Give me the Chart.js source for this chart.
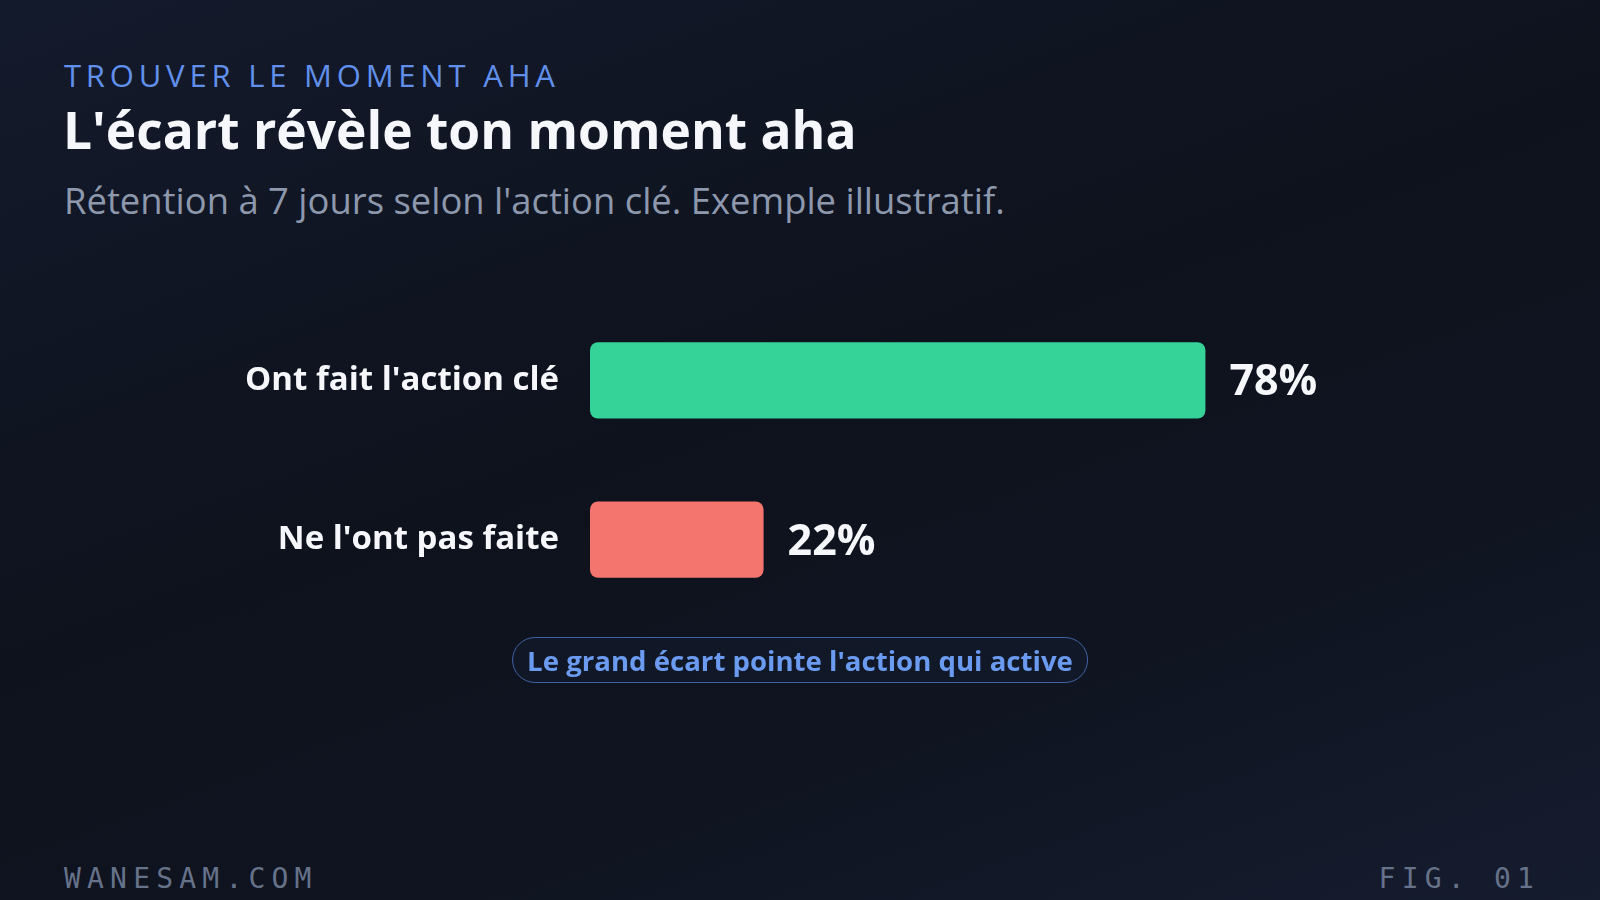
<!DOCTYPE html>
<html lang="fr">
<head>
<meta charset="utf-8">
<title>L'écart révèle ton moment aha</title>
<script src="https://cdn.jsdelivr.net/npm/chart.js@4.4.1/dist/chart.umd.min.js"></script>
<style>
  html, body { margin: 0; padding: 0; }
  body {
    width: 1600px; height: 900px; overflow: hidden; position: relative;
    background: linear-gradient(160deg, #131a2b 0%, #0e121d 45%, #0f1420 70%, #151c2e 100%);
    font-family: "Open Sans", "Noto Sans", sans-serif;
  }
  .abs { position: absolute; line-height: 1; white-space: nowrap; }
  #kicker { left: 64px; top: 60px; font-size: 31px; letter-spacing: 4.8px; color: #6190ec; }
  #title { left: 63px; top: 104px; font-size: 51.5px; font-weight: 700; color: #f5f7fb; }
  #subtitle { left: 64px; top: 182px; font-size: 36.4px; color: #8d98ad; }
  #chartBox { position: absolute; left: 0; top: 250px; width: 1600px; height: 420px; }
  #pill {
    left: 800px; top: 637px; transform: translateX(-50%);
    height: 44px; line-height: 44px; padding: 0 14px; border-radius: 23px;
    border: 1.5px solid #4064aa; background: rgba(80, 120, 220, 0.04);
    font-size: 27.6px; font-weight: 700; color: #6b9bf0;
  }
  .foot { font-family: "DejaVu Sans Mono", "Liberation Mono", monospace; font-size: 28px; letter-spacing: 6.2px; color: #66728a; top: 865px; }
  #site { left: 64px; }
  #fig { right: 60px; }
</style>
</head>
<body>
<div class="abs" id="kicker">TROUVER LE MOMENT AHA</div>
<div class="abs" id="title">L'écart révèle ton moment aha</div>
<div class="abs" id="subtitle">Rétention à 7 jours selon l'action clé. Exemple illustratif.</div>
<div id="chartBox"><canvas id="chart"></canvas></div>
<div class="abs" id="pill">Le grand écart pointe l'action qui active</div>
<div class="abs foot" id="site">WANESAM.COM</div>
<div class="abs foot" id="fig">FIG. 01</div>

<script>
// retention at 7 days, in percent
const groups = ["Ont fait l'action clé", "Ne l'ont pas faite"];
const retention = [78, 22];
const barColors = ['#36d399', '#f4756e'];

// draws "78%" just after the end of each bar
const valueLabels = {
  id: 'valueLabels',
  afterDatasetsDraw(chart) {
    const ctx = chart.ctx;
    const meta = chart.getDatasetMeta(0);
    ctx.save();
    ctx.font = '700 43px "Open Sans", "Noto Sans", sans-serif';
    ctx.fillStyle = '#f5f7fb';
    ctx.textAlign = 'left';
    ctx.textBaseline = 'alphabetic';
    meta.data.forEach((bar, i) => {
      ctx.fillText(retention[i] + '%', bar.x + 24, bar.y + 15);
    });
    ctx.restore();
  }
};

new Chart(document.getElementById('chart'), {
  type: 'bar',
  data: {
    labels: groups,
    datasets: [{
      data: retention,
      backgroundColor: barColors,
      borderRadius: 8,
      borderSkipped: false,
      barPercentage: 1,
      categoryPercentage: 0.48,
    }],
  },
  options: {
    indexAxis: 'y',
    responsive: true,
    maintainAspectRatio: false,
    animation: false,
    layout: { padding: { left: 0, right: 221, top: 0, bottom: 0 } },
    plugins: { legend: { display: false }, tooltip: { enabled: false } },
    scales: {
      x: { display: false, min: 0, max: 100 },
      y: {
        grid: { display: false, drawTicks: false },
        border: { display: false },
        ticks: {
          padding: 31,
          color: '#f5f7fb',
          font: { family: '"Open Sans", "Noto Sans", sans-serif', size: 33, weight: '700' },
        },
        afterFit(scale) { scale.width = 590; },
      },
    },
  },
  plugins: [valueLabels],
});
</script>
</body>
</html>
